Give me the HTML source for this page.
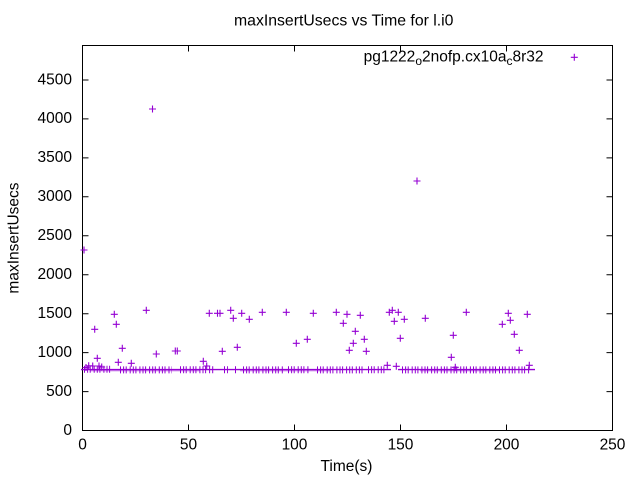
<!DOCTYPE html>
<html>
<head>
<meta charset="utf-8">
<style>
html,body{margin:0;padding:0;background:#fff;}
svg{display:block;}
text{font-family:"Liberation Sans",Arial,sans-serif;fill:#000;}
</style>
</head>
<body>
<svg width="640" height="480" viewBox="0 0 640 480" xmlns="http://www.w3.org/2000/svg">
<rect x="0" y="0" width="640" height="480" fill="#fff"/>

<text x="234" y="25.7" font-size="15.8">maxInsertUsecs vs Time for l.i0</text>

<text x="346.5" y="471" font-size="15.5" text-anchor="middle">Time(s)</text>
<text transform="translate(18.5,238) rotate(-90)" font-size="15.5" text-anchor="middle">maxInsertUsecs</text>

<g stroke="#000" stroke-width="1" fill="none">
<rect x="82.5" y="45.5" width="530" height="385"/>
<path d="M82.5,391.6h6 M82.5,352.6h6 M82.5,313.7h6 M82.5,274.7h6 M82.5,235.8h6 M82.5,196.8h6 M82.5,157.9h6 M82.5,118.9h6 M82.5,80h6 M612.5,391.6h-6 M612.5,352.6h-6 M612.5,313.7h-6 M612.5,274.7h-6 M612.5,235.8h-6 M612.5,196.8h-6 M612.5,157.9h-6 M612.5,118.9h-6 M612.5,80h-6"/>
<path d="M188.5,430.5v-6 M294.5,430.5v-6 M400.5,430.5v-6 M506.5,430.5v-6 M188.5,45.5v6 M294.5,45.5v6 M400.5,45.5v6 M506.5,45.5v6"/>
</g>

<g font-size="15.5" text-anchor="end">
<text x="72" y="435">0</text>
<text x="72" y="396">500</text>
<text x="72" y="357">1000</text>
<text x="72" y="318">1500</text>
<text x="72" y="279">2000</text>
<text x="72" y="240">2500</text>
<text x="72" y="201">3000</text>
<text x="72" y="162">3500</text>
<text x="72" y="123">4000</text>
<text x="72" y="84.3">4500</text>
</g>

<g font-size="15.5" text-anchor="middle">
<text x="82.5" y="449.3">0</text>
<text x="188.5" y="449.3">50</text>
<text x="294.5" y="449.3">100</text>
<text x="400.5" y="449.3">150</text>
<text x="506.5" y="449.3">200</text>
<text x="612.5" y="449.3">250</text>
</g>

<text x="543.5" y="61.7" font-size="15.5" text-anchor="end">pg1222<tspan font-size="12" dy="3.5">o</tspan><tspan dy="-3.5">2nofp.cx10a</tspan><tspan font-size="12" dy="3.5">c</tspan><tspan dy="-3.5">8r32</tspan></text>
<path d="M570.8,57.3h7 M574.3,53.8v7" stroke="#9400d3" stroke-width="1.1" fill="none"/>

<g stroke="#9400d3" fill="none">
<path d="M81,369.6H391 M398,369.6H535" stroke-width="1.4"/>
<path d="M90,370.8H200 M240,370.8H330 M420,370.8H500" stroke-width="0.8" stroke-opacity="0.6"/>
<g stroke-width="7" stroke-dasharray="1 2.1 1 1.6 1 3">
<line x1="84" y1="369.2" x2="111" y2="369.2"/>
<line x1="120" y1="369.9" x2="172" y2="369.9"/>
<line x1="180" y1="369.7" x2="214" y2="369.7"/>
<line x1="224" y1="369.7" x2="228" y2="369.7"/>
<line x1="235" y1="369.7" x2="238" y2="369.7"/>
<line x1="243" y1="369.9" x2="283" y2="369.9"/>
<line x1="288" y1="369.7" x2="310" y2="369.7"/>
<line x1="317" y1="369.9" x2="363" y2="369.9"/>
<line x1="368" y1="369.7" x2="387" y2="369.7"/>
<line x1="402" y1="369.9" x2="531" y2="369.9"/>
</g>
</g>

<path stroke="#9400d3" stroke-width="1.1" fill="none" d="M80.5,250h7M84,246.5v7 M149,109h7M152.5,105.5v7 M413.5,181h7M417,177.5v7 M91.2,329.3h7M94.7,325.8v7 M110.8,314.3h7M114.3,310.8v7 M112.8,324.3h7M116.3,320.8v7 M142.8,310.3h7M146.3,306.8v7 M205.8,313.3h7M209.3,309.8v7 M214,313.3h7M217.5,309.8v7 M216.5,313.3h7M220,309.8v7 M93.8,358.3h7M97.3,354.8v7 M118.8,348.3h7M122.3,344.8v7 M152.8,354h7M156.3,350.5v7 M171.8,351h7M175.3,347.5v7 M173.8,351h7M177.3,347.5v7 M114.8,362.3h7M118.3,358.8v7 M127.8,363.3h7M131.3,359.8v7 M199.8,361.3h7M203.3,357.8v7 M85.2,365.8h7M88.7,362.3v7 M82.5,367.5h7M86,364v7 M89.2,366h7M92.7,362.5v7 M95.5,366h7M99,362.5v7 M98.2,367h7M101.7,363.5v7 M203.2,366h7M206.7,362.5v7 M227.2,310.3h7M230.7,306.8v7 M229.8,318.3h7M233.3,314.8v7 M238.2,313.3h7M241.7,309.8v7 M245.8,319.3h7M249.3,315.8v7 M258.8,312.3h7M262.3,308.8v7 M282.8,312.3h7M286.3,308.8v7 M309.8,313.3h7M313.3,309.8v7 M332.8,312.3h7M336.3,308.8v7 M343.5,314.3h7M347,310.8v7 M339.8,323.3h7M343.3,319.8v7 M218.8,351.3h7M222.3,347.8v7 M233.8,347.3h7M237.3,343.8v7 M292.8,343.3h7M296.3,339.8v7 M303.8,339.3h7M307.3,335.8v7 M345.8,350.3h7M349.3,346.8v7 M356.8,315.3h7M360.3,311.8v7 M351.8,331.3h7M355.3,327.8v7 M349.8,343.3h7M353.3,339.8v7 M360.8,339.3h7M364.3,335.8v7 M362.8,351.3h7M366.3,347.8v7 M385.8,312.3h7M389.3,308.8v7 M388.8,310.3h7M392.3,306.8v7 M394.8,312.3h7M398.3,308.8v7 M390.8,321.3h7M394.3,317.8v7 M400.8,319.3h7M404.3,315.8v7 M396.8,338.3h7M400.3,334.8v7 M421.8,318.3h7M425.3,314.8v7 M462.8,312.3h7M466.3,308.8v7 M449.8,335.3h7M453.3,331.8v7 M447.8,357.3h7M451.3,353.8v7 M383.8,365.3h7M387.3,361.8v7 M392.8,366.3h7M396.3,362.8v7 M451.8,367.3h7M455.3,363.8v7 M504.8,313.3h7M508.3,309.8v7 M498.8,324.3h7M502.3,320.8v7 M506.8,320.3h7M510.3,316.8v7 M523.8,314.3h7M527.3,310.8v7 M510.8,334.3h7M514.3,330.8v7 M515.8,350.3h7M519.3,346.8v7 M525.8,365.3h7M529.3,361.8v7"/>
</svg>
</body>
</html>
